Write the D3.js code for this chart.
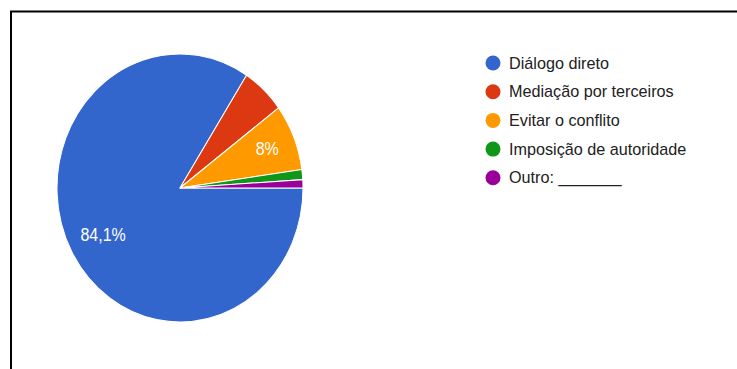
<!DOCTYPE html>
<html lang="pt">
<head>
    <meta charset="UTF-8">
    <script src="https://d3js.org/d3.v7.min.js"></script>
    <style>
    html, body { margin: 0; background: #fff; }
    svg { display: block; }
    text { font-family: "Liberation Sans", Arial, sans-serif; }
    </style>
    <title>Pie</title>
</head>
<body>
    <div id="chart"></div>
    <script type="text/javascript">

    // data (percent)
    var categories = ["Diálogo direto", "Mediação por terceiros", "Evitar o conflito", "Imposição de autoridade", "Outro: _______"];
    var values = [84.1, 5.7, 8.0, 1.2, 1.0];
    var labels = ["84,1%", "", "8%", "", ""];
    var colors = ["#3366cc", "#dc3912", "#ff9900", "#109618", "#990099"];

    var width = 737, height = 369;
    var radius = 123;

    var svg = d3.select("#chart").append("svg")
        .attr("width", width)
        .attr("height", height);

    // frame (left and top edge only)
    svg.append("path")
        .attr("d", "M11,369 V11.5 H737")
        .attr("fill", "none")
        .attr("stroke", "#000")
        .attr("stroke-width", 2);

    var pie = d3.pie()
        .sort(null)
        .value(function (d) { return d; })
        .startAngle(Math.PI / 2)
        .endAngle(Math.PI / 2 + 2 * Math.PI);

    var arc = d3.arc().innerRadius(0).outerRadius(radius);
    var labelArc = d3.arc().innerRadius(radius * 0.74).outerRadius(radius * 0.74);

    // the source image is stretched a bit vertically
    var g = svg.append("g")
        .attr("transform", "translate(180,188) scale(1,1.09)");

    var slices = pie(values);

    g.selectAll("path.slice")
        .data(slices)
        .enter()
        .append("path")
        .attr("class", "slice")
        .attr("d", arc)
        .attr("fill", function (d, i) { return colors[i]; })
        .attr("stroke", "#fff")
        .attr("stroke-width", 1);

    g.selectAll("text.lbl")
        .data(slices)
        .enter()
        .append("text")
        .attr("class", "lbl")
        .attr("transform", function (d) {
            var c = labelArc.centroid(d);
            return "translate(" + (c[0] + 3) + "," + (c[1] - 1) + ")";
        })
        .attr("text-anchor", "middle")
        .attr("dy", "0.35em")
        .attr("fill", "#fff")
        .attr("font-size", 16)
        .text(function (d, i) { return labels[i]; });

    // legend
    var legend = svg.append("g").attr("transform", "translate(493,63)");
    var row = d3.scaleLinear().domain([0, 1]).range([0, 28.7]);

    var items = legend.selectAll("g")
        .data(categories)
        .enter()
        .append("g")
        .attr("transform", function (d, i) { return "translate(0," + row(i) + ")"; });

    items.append("circle")
        .attr("r", 7.5)
        .attr("fill", function (d, i) { return colors[i]; });

    items.append("text")
        .attr("x", 16)
        .attr("dy", "0.35em")
        .attr("font-size", 16.2)
        .attr("fill", "#222")
        .text(function (d) { return d; });

    </script>
</body>
</html>
